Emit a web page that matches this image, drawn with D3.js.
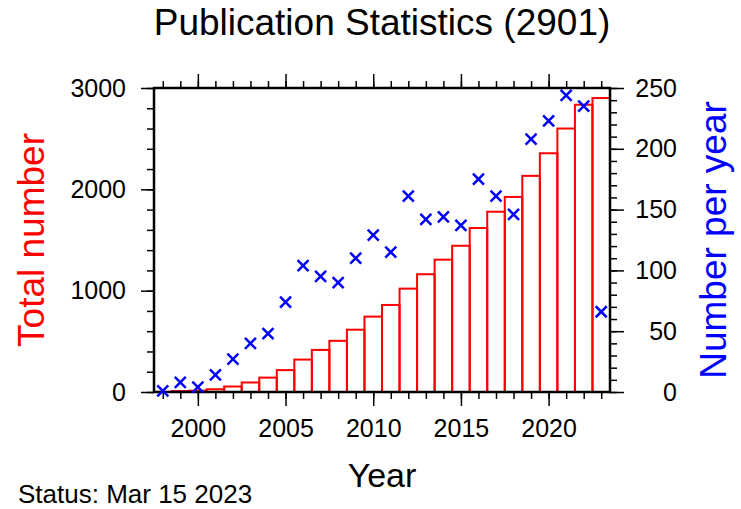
<!DOCTYPE html>
<html>
<head>
<meta charset="utf-8">
<script src="https://cdn.jsdelivr.net/npm/d3@7"></script>
<style>
  html, body { margin: 0; padding: 0; background: #fff; }
  svg { display: block; font-family: "Liberation Sans", Arial, Helvetica, sans-serif; }
</style>
</head>
<body>
<svg id="chart" width="741" height="509"></svg>
<script>
// Publication record, one entry per year
const years = [1998, 1999, 2000, 2001, 2002, 2003, 2004, 2005, 2006, 2007, 2008, 2009, 2010,
               2011, 2012, 2013, 2014, 2015, 2016, 2017, 2018, 2019, 2020, 2021, 2022, 2023];
// Cumulative number of publications (bars, left axis)
const totalNumber = [1, 9, 13, 27, 54, 94, 142, 216, 320, 415, 505, 615, 744,
                     859, 1020, 1162, 1306, 1443, 1618, 1779, 1925, 2133, 2356, 2600, 2835, 2901];
// Publications in each year (crosses, right axis)
const perYear = [1, 8, 4, 14, 27, 40, 48, 74, 104, 95, 90, 110, 129,
                 115, 161, 142, 144, 137, 175, 161, 146, 208, 223, 244, 235, 66];

const leftTicks = [0, 1000, 2000, 3000];
const rightTicks = [0, 50, 100, 150, 200, 250];
const yearTicks = [2000, 2005, 2010, 2015, 2020];

const svg = d3.select("#chart");
const plot = { left: 154, right: 610, top: 88, bottom: 392 };

const x = d3.scaleLinear().domain([1997.5, 2023.5]).range([plot.left, plot.right]);
const yL = d3.scaleLinear().domain([0, 3000]).range([plot.bottom, plot.top]);
const yR = d3.scaleLinear().domain([0, 250]).range([plot.bottom, plot.top]);

const data = years.map((yr, i) => ({ year: yr, total: totalNumber[i], count: perYear[i] }));

// Cumulative bars: outlined in red, each spanning its full year
svg.append("g")
  .selectAll("rect")
  .data(data)
  .join("rect")
  .attr("x", d => x(d.year - 0.5))
  .attr("width", d => x(d.year + 0.5) - x(d.year - 0.5))
  .attr("y", d => yL(d.total))
  .attr("height", d => yL(0) - yL(d.total))
  .attr("fill", "none")
  .attr("stroke", "#ff0000")
  .attr("stroke-width", 2);

// Axis helper: minor ticks without labels, then major ticks with labels
function styleAxis(g) {
  g.select(".domain").remove();
  g.selectAll(".tick line").attr("stroke", "#000").attr("stroke-width", 1.5);
  g.selectAll("text").attr("fill", "#000").attr("font-size", 25);
}

// Bottom axis
svg.append("g")
  .attr("transform", `translate(0,${plot.bottom})`)
  .call(d3.axisBottom(x).tickValues(d3.range(1998, 2024)).tickSize(7).tickFormat(""))
  .call(styleAxis);
svg.append("g")
  .attr("transform", `translate(0,${plot.bottom})`)
  .call(d3.axisBottom(x).tickValues(yearTicks).tickSize(14).tickPadding(13).tickFormat(d3.format("d")))
  .call(styleAxis);

// Top axis (ticks only)
svg.append("g")
  .attr("transform", `translate(0,${plot.top})`)
  .call(d3.axisTop(x).tickValues(d3.range(1998, 2024)).tickSize(7).tickFormat(""))
  .call(styleAxis);
svg.append("g")
  .attr("transform", `translate(0,${plot.top})`)
  .call(d3.axisTop(x).tickValues(yearTicks).tickSize(14).tickFormat(""))
  .call(styleAxis);

// Left axis: total number
svg.append("g")
  .attr("transform", `translate(${plot.left},0)`)
  .call(d3.axisLeft(yL).tickValues(d3.range(0, 3001, 200)).tickSize(7).tickFormat(""))
  .call(styleAxis);
svg.append("g")
  .attr("transform", `translate(${plot.left},0)`)
  .call(d3.axisLeft(yL).tickValues(leftTicks).tickSize(13).tickPadding(15).tickFormat(d3.format("d")))
  .call(styleAxis);

// Right axis: number per year
svg.append("g")
  .attr("transform", `translate(${plot.right},0)`)
  .call(d3.axisRight(yR).tickValues(d3.range(0, 251, 10)).tickSize(7).tickFormat(""))
  .call(styleAxis);
svg.append("g")
  .attr("transform", `translate(${plot.right},0)`)
  .call(d3.axisRight(yR).tickValues(rightTicks).tickSize(14).tickFormat(d3.format("d")))
  .call(styleAxis)
  .call(g => g.selectAll("text").attr("text-anchor", "end").attr("x", 67));

// Plot frame
svg.append("rect")
  .attr("x", plot.left)
  .attr("y", plot.top)
  .attr("width", plot.right - plot.left)
  .attr("height", plot.bottom - plot.top)
  .attr("fill", "none")
  .attr("stroke", "#000")
  .attr("stroke-width", 2.5);

// Yearly counts as blue crosses
const s = 5.5;
svg.append("g")
  .selectAll("path")
  .data(data)
  .join("path")
  .attr("transform", d => `translate(${x(d.year)},${yR(d.count)})`)
  .attr("d", `M${-s},${-s}L${s},${s}M${-s},${s}L${s},${-s}`)
  .attr("stroke", "#0000ff")
  .attr("stroke-width", 2.5)
  .attr("fill", "none");

// Titles
svg.append("text")
  .attr("x", (plot.left + plot.right) / 2)
  .attr("y", 35)
  .attr("text-anchor", "middle")
  .attr("font-size", 37)
  .text("Publication Statistics (2901)");

svg.append("text")
  .attr("x", (plot.left + plot.right) / 2)
  .attr("y", 487)
  .attr("text-anchor", "middle")
  .attr("font-size", 34)
  .text("Year");

svg.append("text")
  .attr("transform", `translate(44,${(plot.top + plot.bottom) / 2}) rotate(-90)`)
  .attr("text-anchor", "middle")
  .attr("font-size", 37)
  .attr("fill", "#ff0000")
  .text("Total number");

svg.append("text")
  .attr("transform", `translate(726,${(plot.top + plot.bottom) / 2}) rotate(-90)`)
  .attr("text-anchor", "middle")
  .attr("font-size", 37)
  .attr("fill", "#0000ff")
  .text("Number per year");

svg.append("text")
  .attr("x", 18)
  .attr("y", 503)
  .attr("font-size", 26)
  .text("Status: Mar 15 2023");
</script>
</body>
</html>
